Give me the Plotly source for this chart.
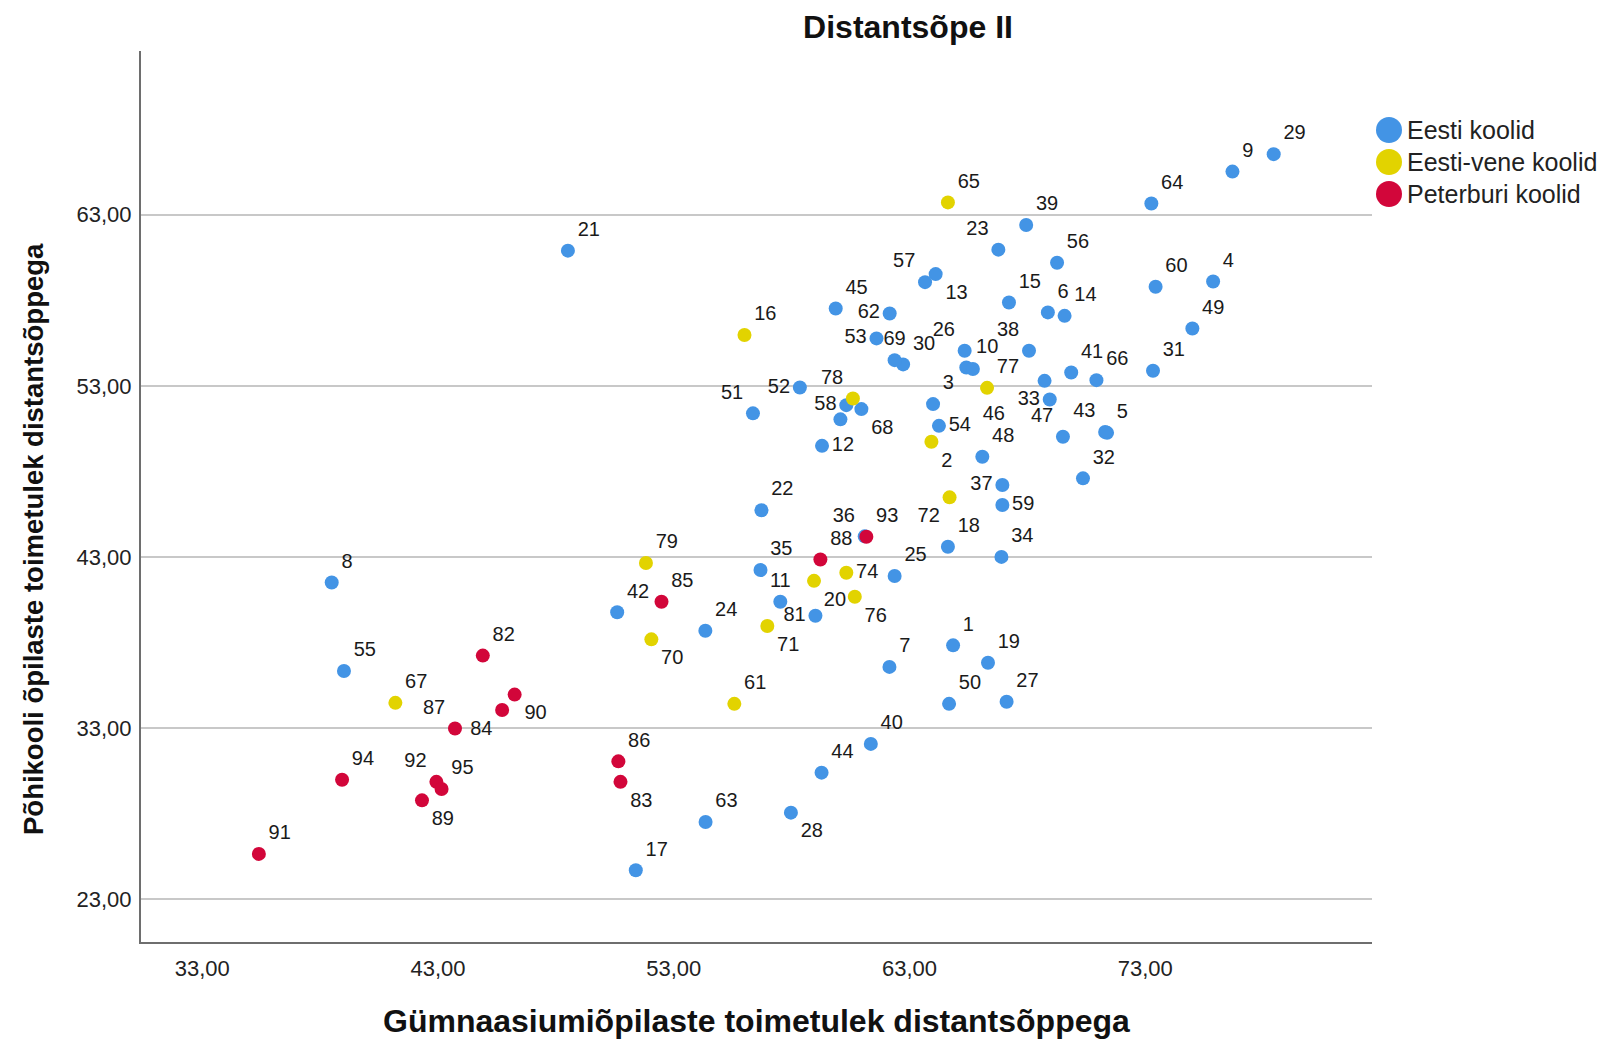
import plotly.graph_objects as go

# group names in legend order
GROUPS = ["Eesti koolid", "Eesti-vene koolid", "Peterburi koolid"]

# Eesti koolid (blue); None = point without visible label
eesti_ids = [1, 3, 4, 5, 6, 7, 8, 9, 10, 11, 12, 13, 14, 15, 17, 18, 19, 21, 22, 23,
             24, 25, 26, 27, 28, 29, 30, 31, 32, 33, 34, 35, 36, 37, 38, 39, 40, 41, 42, 43,
             44, 45, 46, 47, 48, 49, 50, 51, 52, 53, 54, 55, 56, 57, 58, 59, 60, 62, 63, 64,
             66, 68, 69, 81, None, None]
eesti_x = [64.85, 64.00, 75.88, 71.38, 68.87, 62.15, 38.49, 76.70, 65.41, 57.52,
           59.29, 64.11, 69.58, 67.22, 51.39, 64.63, 66.33, 48.51, 56.72, 66.77,
           54.34, 62.37, 65.34, 67.12, 57.97, 78.45, 62.73, 73.33, 70.36, 68.95,
           66.90, 56.68, 61.10, 66.94, 68.07, 67.95, 61.36, 69.86, 50.60, 71.30,
           59.27, 59.87, 65.69, 69.51, 66.09, 75.00, 64.68, 56.36, 58.35, 61.60,
           64.25, 39.01, 69.26, 63.66, 60.32, 66.94, 73.44, 62.16, 54.35, 73.26,
           70.93, 60.96, 62.37, 59.01, 60.07, 68.73]
eesti_y = [37.83, 51.93, 59.10, 50.25, 57.29, 36.57, 41.50, 65.52, 54.07, 40.38,
           49.49, 59.53, 57.09, 57.87, 24.68, 43.59, 36.81, 60.90, 45.73, 60.96,
           38.68, 41.88, 55.05, 34.53, 28.05, 66.54, 54.25, 53.88, 47.59, 52.20,
           43.00, 42.23, 44.20, 47.20, 55.05, 62.40, 32.07, 53.78, 39.76, 50.30,
           30.39, 57.52, 53.98, 50.02, 48.85, 56.35, 34.41, 51.39, 52.90, 55.77,
           50.66, 36.33, 60.19, 59.06, 51.87, 46.03, 58.79, 57.23, 27.50, 63.66,
           53.33, 51.64, 54.50, 39.56, 51.04, 53.29]

# Eesti-vene koolid (yellow)
vene_ids = [2, 16, 20, 61, 65, 67, 70, 71, 72, 74, 76, 77, 78, 79]
vene_x = [63.93, 56.00, 58.95, 55.57, 64.63, 41.19, 52.05, 56.97, 64.70, 60.32,
          60.68, 66.29, 60.60, 51.82]
vene_y = [49.73, 55.97, 41.60, 34.41, 63.72, 34.47, 38.18, 38.96, 46.48, 42.07,
          40.67, 52.88, 52.26, 42.64]

# Peterburi koolid (red)
peter_ids = [82, 83, 84, 85, 86, 87, 88, 89, 90, 91, 92, 93, 94, 95]
peter_x = [44.90, 50.74, 45.72, 52.48, 50.65, 43.72, 59.22, 42.32, 46.25, 35.40,
           42.93, 61.17, 38.93, 43.15]
peter_y = [37.23, 29.85, 34.05, 40.38, 31.05, 32.97, 42.85, 28.77, 34.95, 25.64,
           29.85, 44.18, 29.97, 29.43]

x_ticks = [33, 43, 53, 63, 73]
y_ticks = [23, 33, 43, 53, 63]

COLORS = ["#4394E5", "#E2D300", "#D2063A"]
FONT = "Liberation Sans"

# where each point label sits relative to its marker (default top right)
LABEL_POS = {
    23: "top left", 13: "bottom right", 57: "top left", 62: "middle left",
    53: "middle left", 69: "top center", 26: "top left", 38: "top left",
    46: "bottom right", 54: "middle right", 2: "bottom right", 33: "middle left",
    47: "top left", 43: "top left", 37: "middle left", 59: "middle right",
    72: "bottom left", 36: "top left", 74: "middle right", 20: "bottom right",
    76: "bottom right", 11: "top center", 81: "middle left", 71: "bottom right",
    12: "middle right", 68: "bottom right", 58: "middle left", 78: "top left",
    52: "middle left", 51: "top left", 70: "bottom right", 28: "bottom right",
    83: "bottom right", 89: "bottom right", 92: "top left", 87: "top left",
    84: "bottom left", 90: "bottom right",
}
# labels pushed one line further from their marker
PUSHED = {46}


def label(i):
    if i is None:
        return ""
    return f"<br>{i}" if i in PUSHED else str(i)


series = [
    (eesti_ids, eesti_x, eesti_y),
    (vene_ids, vene_x, vene_y),
    (peter_ids, peter_x, peter_y),
]

fig = go.Figure()
for name, color, (ids, xs, ys) in zip(GROUPS, COLORS, series):
    fig.add_trace(
        go.Scatter(
            x=xs,
            y=ys,
            name=name,
            mode="markers+text",
            text=[label(i) for i in ids],
            textposition=[LABEL_POS.get(i, "top right") for i in ids],
            textfont=dict(family=FONT, size=20, color="#1a1a1a"),
            marker=dict(size=14, color=color, line=dict(width=0)),
            hoverinfo="skip",
            cliponaxis=False,
        )
    )

# the page body has an 8px margin; screen positions below are page pixels
OFF = 8
W, H = 1611 - 2 * OFF, 1048 - 2 * OFF
L, T = 141 - OFF, 51 - OFF
R, B = W - (1372 - OFF), H - (942 - OFF)
pw, ph = W - L - R, H - T - B


def px_x(p):
    return (p - OFF - L) / pw


def px_y(p):
    return (H - B - (p - OFF)) / ph


fig.update_layout(
    width=W,
    height=H,
    margin=dict(l=L, r=R, t=T, b=B, autoexpand=False),
    paper_bgcolor="white",
    plot_bgcolor="white",
    showlegend=False,
    separators=", ",
    hovermode=False,
    font=dict(family=FONT, color="#222222"),
    title=dict(
        text="<b>Distantsõpe II</b>",
        font=dict(family=FONT, size=32, color="#111111"),
        xref="container",
        yref="container",
        x=(908 - OFF) / W,
        y=1 - (27 - OFF) / H,
        xanchor="center",
        yanchor="middle",
    ),
)

fig.update_xaxes(
    range=[30.4, 82.62],
    tickvals=x_ticks,
    tickformat=".2f",
    ticks="",
    ticklabelstandoff=6,
    tickfont=dict(family=FONT, size=22, color="#222222"),
    showgrid=False,
    zeroline=False,
    showline=True,
    linecolor="#6e6e6e",
    linewidth=2,
)
fig.update_yaxes(
    range=[20.49, 72.57],
    tickvals=y_ticks,
    tickformat=".2f",
    ticks="",
    ticklabelstandoff=3,
    tickfont=dict(family=FONT, size=22, color="#222222"),
    showgrid=True,
    gridcolor="#c8c8c8",
    gridwidth=2,
    zeroline=False,
    showline=True,
    linecolor="#6e6e6e",
    linewidth=2,
)

# axis titles
fig.add_annotation(
    text="<b>Gümnaasiumiõpilaste toimetulek distantsõppega</b>",
    xref="paper", yref="paper", x=0.5, y=px_y(1021),
    xanchor="center", yanchor="middle", showarrow=False,
    font=dict(family=FONT, size=32, color="#111111"),
)
fig.add_annotation(
    text="<b>Põhikooli õpilaste toimetulek distantsõppega</b>",
    xref="paper", yref="paper", x=px_x(33), y=px_y(539),
    xanchor="center", yanchor="middle", showarrow=False, textangle=-90,
    font=dict(family=FONT, size=27.5, color="#111111"),
)

# legend: large circles + names
legend_rows = [130, 162, 194]
for name, color, row in zip(GROUPS, COLORS, legend_rows):
    fig.add_shape(
        type="circle",
        xref="paper", yref="paper",
        xsizemode="pixel", ysizemode="pixel",
        xanchor=px_x(1389), yanchor=px_y(row),
        x0=-13, x1=13, y0=-13, y1=13,
        fillcolor=color, line=dict(width=0),
    )
    fig.add_annotation(
        text=name,
        xref="paper", yref="paper", x=px_x(1405), y=px_y(row),
        xanchor="left", yanchor="middle", showarrow=False,
        font=dict(family=FONT, size=25, color="#222222"),
    )

fig.write_html("out.html")
